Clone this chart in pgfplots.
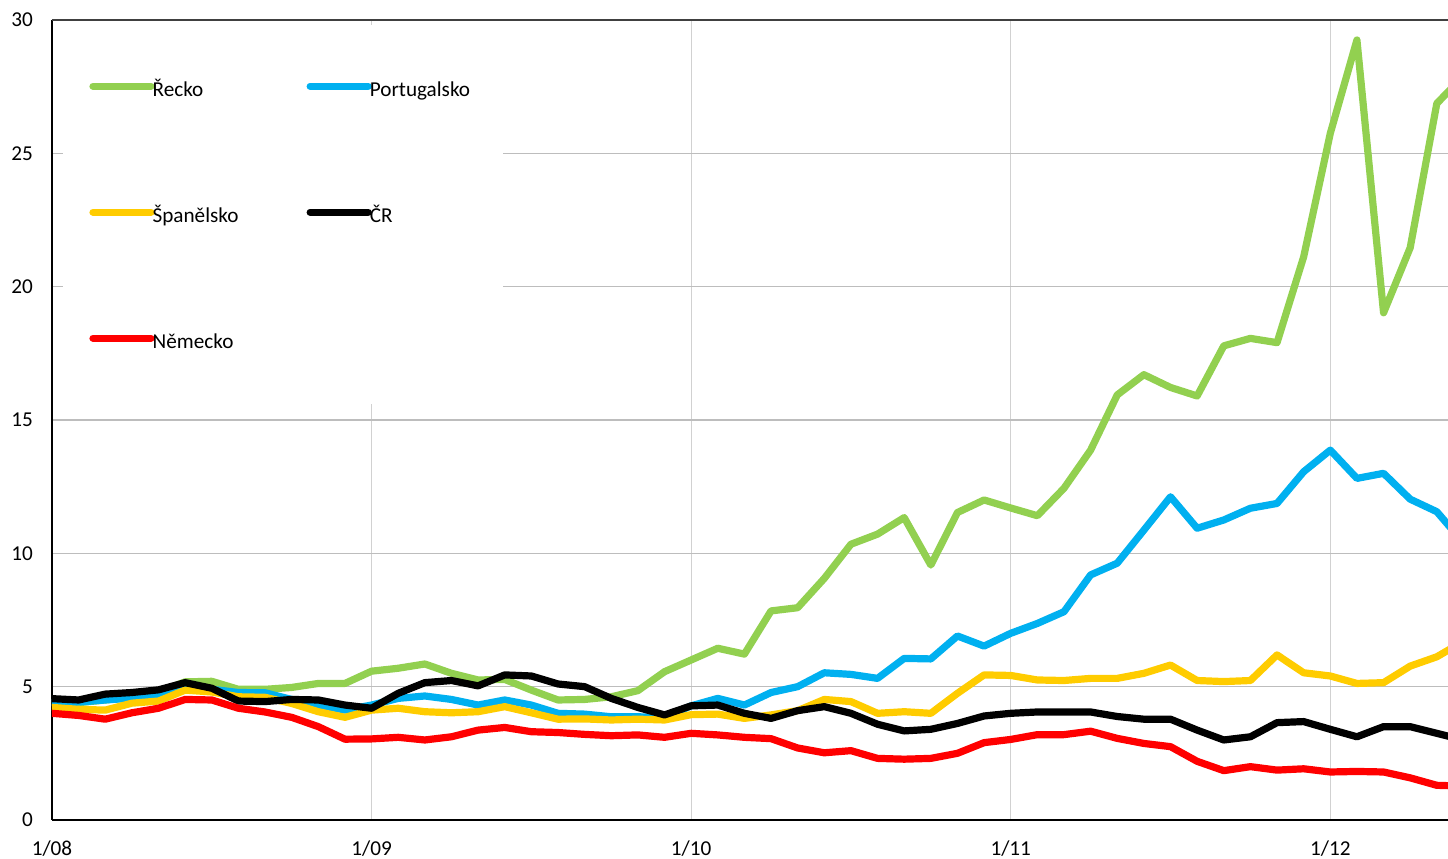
\documentclass[border=0pt]{standalone}
\usepackage{fontspec}
\setmainfont{Carlito}
\usepackage{pgfplots}
\pgfplotsset{compat=1.18}
\usepackage{pgfplotstable}

\definecolor{cgr}{HTML}{92D050}
\definecolor{cpt}{HTML}{00B0F0}
\definecolor{ces}{HTML}{FFCC00}
\definecolor{ccz}{HTML}{000000}
\definecolor{cde}{HTML}{FF0000}

\pgfplotstableread{
i gr pt es cz de
0 4.40 4.40 4.22 4.55 4.00
1 4.40 4.42 4.15 4.50 3.92
2 4.50 4.50 4.12 4.72 3.78
3 4.60 4.57 4.38 4.78 4.02
4 4.80 4.63 4.46 4.88 4.19
5 5.18 5.05 4.87 5.15 4.52
6 5.20 4.90 4.80 4.94 4.50
7 4.90 4.78 4.62 4.46 4.19
8 4.90 4.77 4.60 4.44 4.05
9 4.97 4.52 4.37 4.52 3.85
10 5.12 4.31 4.06 4.50 3.50
11 5.12 4.12 3.85 4.31 3.03
12 5.58 4.31 4.12 4.19 3.04
13 5.69 4.56 4.19 4.75 3.10
14 5.85 4.65 4.06 5.15 3.00
15 5.50 4.52 4.02 5.23 3.12
16 5.25 4.31 4.06 5.03 3.37
17 5.27 4.50 4.25 5.44 3.47
18 4.87 4.31 4.02 5.40 3.31
19 4.50 4.00 3.78 5.10 3.28
20 4.52 3.97 3.79 5.00 3.21
21 4.62 3.87 3.75 4.56 3.16
22 4.85 3.87 3.78 4.22 3.19
23 5.56 3.85 3.75 3.94 3.10
24 6.00 4.28 3.95 4.28 3.25
25 6.44 4.56 3.97 4.31 3.19
26 6.22 4.31 3.81 4.00 3.10
27 7.84 4.78 3.94 3.81 3.05
28 7.96 5.00 4.10 4.10 2.70
29 9.06 5.52 4.52 4.25 2.52
30 10.34 5.46 4.44 4.00 2.60
31 10.72 5.31 4.00 3.59 2.31
32 11.34 6.06 4.06 3.34 2.28
33 9.56 6.04 4.00 3.40 2.31
34 11.53 6.90 4.75 3.62 2.50
35 12.00 6.52 5.44 3.90 2.90
36 11.70 7.00 5.42 4.00 3.02
37 11.41 7.37 5.25 4.05 3.20
38 12.44 7.81 5.23 4.05 3.20
39 13.87 9.19 5.31 4.05 3.33
40 15.94 9.63 5.31 3.88 3.06
41 16.70 10.87 5.50 3.78 2.87
42 16.22 12.12 5.81 3.78 2.75
43 15.90 10.94 5.23 3.37 2.20
44 17.78 11.25 5.19 3.00 1.85
45 18.06 11.69 5.23 3.12 2.00
46 17.90 11.87 6.19 3.65 1.87
47 21.12 13.06 5.52 3.69 1.92
48 25.75 13.87 5.40 3.40 1.80
49 29.25 12.81 5.12 3.12 1.82
50 19.02 13.00 5.15 3.50 1.80
51 21.46 12.03 5.77 3.50 1.58
52 26.87 11.56 6.12 3.25 1.30
53 27.90 10.40 6.70 3.00 1.27
}\data

\begin{document}
\begin{tikzpicture}
\begin{axis}[
  scale only axis, width=698pt, height=400pt,
  xmin=0, xmax=52.42, ymin=0, ymax=30,
  axis x line*=bottom, axis y line*=left,
  x axis line style={black, line width=1pt},
  y axis line style={black, line width=0.75pt},
  xtick={0,12,24,36,48},
  xticklabels={1/08,1/09,1/10,1/11,1/12},
  ytick={0,5,10,15,20,25,30},
  major tick length=0pt,
  xmajorgrids, ymajorgrids,
  x grid style={color=black!18, line width=0.65pt},
  y grid style={color=black!26, line width=0.6pt},
  tick label style={font=\fontsize{10.6}{12}\selectfont},
  /pgf/number format/assume math mode=true,
  xticklabel style={yshift=-7pt},
  yticklabel style={xshift=-6pt},
  clip mode=individual,
  every axis plot/.append style={line width=3.6pt, line join=round, line cap=round},
  legend columns=2,
  legend image code/.code={\path (0pt,2.6pt) -- (29pt,2.6pt);\draw[#1, line cap=round] (1.8pt,2.6pt) -- (25.6pt,2.6pt);},
  legend style={draw=none, fill=none, at={(0.0265,0.925)}, anchor=north west,
    inner sep=0pt, row sep=52pt, font=\fontsize{10.6}{12}\selectfont,
    nodes={inner sep=0.5pt, text height=7.5pt, text depth=2.5pt},
    /tikz/every odd column/.append style={column sep=-1.5pt},
    /tikz/every even column/.append style={column sep=33.5pt}},
  legend cell align=left,
]
\fill[white] (rel axis cs:0.00788,0.99375) rectangle (rel axis cs:0.3231,0.52);
\coordinate (SW) at (rel axis cs:0,0);
\coordinate (NE) at (rel axis cs:1,1);
\addplot[cgr] table[x=i,y=gr] {\data};
\addlegendentry{Řecko}
\addplot[cpt] table[x=i,y=pt] {\data};
\addlegendentry{Portugalsko}
\addplot[ces] table[x=i,y=es] {\data};
\addlegendentry{Španělsko}
\addplot[ccz] table[x=i,y=cz] {\data};
\addlegendentry{ČR}
\addplot[cde] table[x=i,y=de] {\data};
\addlegendentry{Německo}
\draw[black!75, line width=0.7pt] (rel axis cs:0,1) -- (rel axis cs:1,1);
\end{axis}
\pgfresetboundingbox
\path[use as bounding box] ([xshift=-26pt,yshift=-19.5pt]SW) rectangle ([yshift=10pt]NE);
\end{tikzpicture}
\end{document}
